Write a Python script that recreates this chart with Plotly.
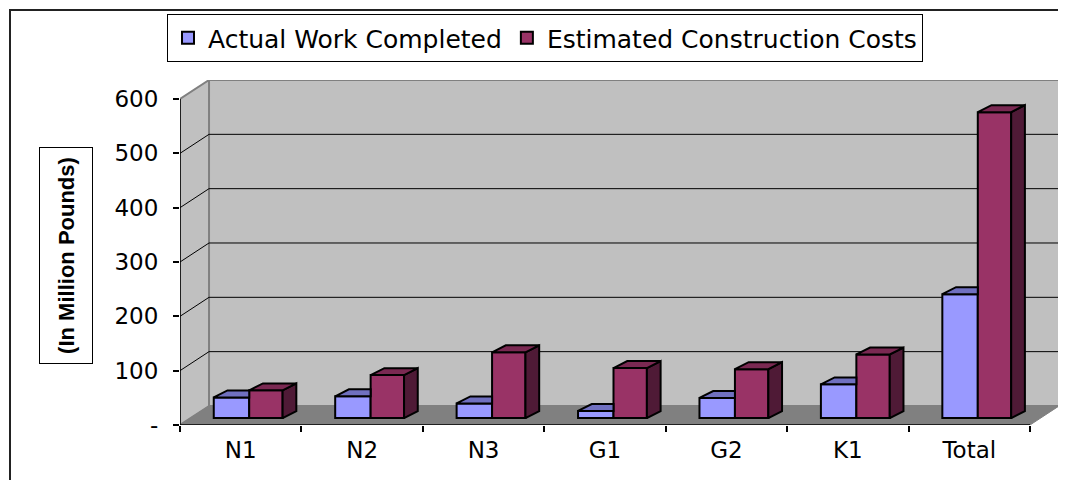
import plotly.graph_objects as go

# ---- data ----
categories = ["N1", "N2", "N3", "G1", "G2", "K1", "Total"]
actual_work = [38, 40, 27, 13, 37, 62, 228]
estimated_costs = [51, 79, 121, 92, 90, 117, 563]
y_tick_values = [0, 100, 200, 300, 400, 500, 600]
y_tick_labels = ["-", "100", "200", "300", "400", "500", "600"]

# ---- 3D-look geometry (style, in axis units) ----
WALL_DX, WALL_DY = 0.239, 35.0     # depth of walls/floor
BAR_DX, BAR_DY = 0.113, 12.8       # depth of each bar
BAR_BASE = 12.8                    # bars stand slightly back on the floor
BLUE_OFF, BLUE_W = -0.222, 0.292
RED_OFF, RED_W = 0.070, 0.275

BLUE, BLUE_TOP, BLUE_SIDE = "#9999FF", "#7070C0", "#4C4C80"
RED, RED_TOP, RED_SIDE = "#993366", "#7A2952", "#4F1A36"
WALL, FLOOR, EDGE = "#C0C0C0", "#808080", "#808080"

FONT = "DejaVu Sans, Liberation Sans, Arial, sans-serif"
TITLE_FONT = "Liberation Sans, Arial, sans-serif"
idx = list(range(len(categories)))
x_lo, x_hi = -0.5, len(categories) - 0.5

# page body has an 8px margin: figure pixels = screen pixels - 8
OFF = 8
FIG_W, FIG_H = 1066 - OFF, 480 - OFF
PLOT_L, PLOT_R, PLOT_T, PLOT_B = 180, 1062, 80, 425   # screen px of plot area
L, T = PLOT_L - OFF, PLOT_T - OFF
R, B = FIG_W - (PLOT_R - OFF), FIG_H - (PLOT_B - OFF)
W, H = PLOT_R - PLOT_L, PLOT_B - PLOT_T

def px_x(p): return (p - PLOT_L) / W
def px_y(p): return (PLOT_B - p) / H

fig = go.Figure()

fig.add_trace(go.Bar(
    x=idx, y=actual_work, base=BAR_BASE, width=BLUE_W, offset=BLUE_OFF,
    name="Actual Work Completed",
    marker=dict(color=BLUE, line=dict(color="black", width=2)),
))
fig.add_trace(go.Bar(
    x=idx, y=estimated_costs, base=BAR_BASE, width=RED_W, offset=RED_OFF,
    name="Estimated Construction Costs",
    marker=dict(color=RED, line=dict(color="black", width=2)),
))

def poly_trace(xs, ys, color):
    return go.Scatter(x=xs, y=ys, mode="lines", fill="toself", fillcolor=color,
                      line=dict(color="black", width=2), showlegend=False,
                      hoverinfo="skip")

bt_x, bt_y, rt_x, rt_y, rs_x, rs_y = [], [], [], [], [], []
for i, (a, e) in enumerate(zip(actual_work, estimated_costs)):
    x0 = i + BLUE_OFF
    x1 = i + RED_OFF
    x2 = x1 + RED_W
    ta = BAR_BASE + a
    te = BAR_BASE + e
    if te >= ta + BAR_DY:
        bt_x += [x0, x1, x1, x0 + BAR_DX, x0, None]
    else:
        bt_x += [x0, x1, x1 + BAR_DX, x0 + BAR_DX, x0, None]
    bt_y += [ta, ta, ta + BAR_DY, ta + BAR_DY, ta, None]
    rt_x += [x1, x2, x2 + BAR_DX, x1 + BAR_DX, x1, None]
    rt_y += [te, te, te + BAR_DY, te + BAR_DY, te, None]
    rs_x += [x2, x2, x2 + BAR_DX, x2 + BAR_DX, x2, None]
    rs_y += [BAR_BASE, te, te + BAR_DY, BAR_BASE + BAR_DY, BAR_BASE, None]

fig.add_trace(poly_trace(bt_x, bt_y, BLUE_TOP))
fig.add_trace(poly_trace(rs_x, rs_y, RED_SIDE))
fig.add_trace(poly_trace(rt_x, rt_y, RED_TOP))

# ---- walls, floor and gridlines ----
ymax = y_tick_values[-1]
shapes = []
shapes.append(dict(type="rect", xref="x", yref="y", layer="below",
                   x0=x_lo + WALL_DX, x1=x_hi + WALL_DX, y0=WALL_DY, y1=ymax + WALL_DY,
                   fillcolor=WALL, line=dict(color=EDGE, width=2)))
shapes.append(dict(type="path", xref="x", yref="y", layer="below",
                   path=f"M {x_lo},0 L {x_lo + WALL_DX},{WALL_DY} L {x_lo + WALL_DX},{ymax + WALL_DY} L {x_lo},{ymax} Z",
                   fillcolor=WALL, line=dict(color=EDGE, width=2)))
for v in y_tick_values[1:-1]:
    shapes.append(dict(type="path", xref="x", yref="y", layer="below",
                       path=f"M {x_lo},{v} L {x_lo + WALL_DX},{v + WALL_DY} L {x_hi + WALL_DX},{v + WALL_DY}",
                       line=dict(color="black", width=1)))
shapes.append(dict(type="path", xref="x", yref="y", layer="below",
                   path=f"M {x_lo},0 L {x_hi},0 L {x_hi + WALL_DX},{WALL_DY} L {x_lo + WALL_DX},{WALL_DY} Z",
                   fillcolor=FLOOR, line=dict(color=EDGE, width=1)))
shapes.append(dict(type="line", xref="x", yref="y", layer="below",
                   x0=x_lo, x1=x_hi, y0=0, y1=0, line=dict(color="black", width=1.5)))
shapes.append(dict(type="line", xref="x", yref="y", layer="below",
                   x0=x_lo, x1=x_lo, y0=0, y1=ymax, line=dict(color="black", width=1.5)))
# outer chart border
shapes.append(dict(type="path", xref="paper", yref="paper", layer="above",
                   path=f"M {px_x(10)},{px_y(520)} L {px_x(10)},{px_y(10)} L {px_x(1100)},{px_y(10)}",
                   line=dict(color="#222222", width=2)))

x_per_px = 7.0 / 850.0
fig.update_layout(
    width=FIG_W, height=FIG_H,
    margin=dict(l=L, r=R, t=T, b=B),
    paper_bgcolor="white", plot_bgcolor="white",
    font=dict(family=FONT, color="black", size=22),
    barmode="overlay",
    shapes=shapes,
    showlegend=True,
    legend=dict(orientation="h", x=px_x(545), xanchor="center", y=px_y(14), yanchor="top",
                bordercolor="black", borderwidth=1, bgcolor="white",
                font=dict(size=25, family=FONT), itemsizing="constant",
                traceorder="normal", itemwidth=30),
    xaxis=dict(range=[x_lo, x_lo + W * x_per_px], tickvals=idx, ticktext=categories,
               showgrid=False, zeroline=False, showline=False,
               ticks="outside", ticklen=4, tickcolor="rgba(0,0,0,0)",
               tickfont=dict(size=23),
               minor=dict(tickvals=[i - 0.5 for i in range(len(categories) + 1)],
                          ticks="outside", ticklen=6, tickcolor="black", tickwidth=1.5)),
    yaxis=dict(range=[0, 635], tickvals=y_tick_values, ticktext=y_tick_labels,
               showgrid=False, zeroline=False, showline=False,
               ticks="outside", ticklen=6, tickcolor="black", tickwidth=1.5,
               ticklabelstandoff=10, tickfont=dict(size=23)),
    annotations=[dict(text="<b>(In Million Pounds)</b>", textangle=-90,
                      xref="paper", yref="paper", x=px_x(66), y=px_y(256),
                      xanchor="center", yanchor="middle", showarrow=False,
                      font=dict(size=22, family=TITLE_FONT),
                      bordercolor="black", borderwidth=1, bgcolor="white",
                      width=213, height=50)],
)

fig.write_html("out.html")
